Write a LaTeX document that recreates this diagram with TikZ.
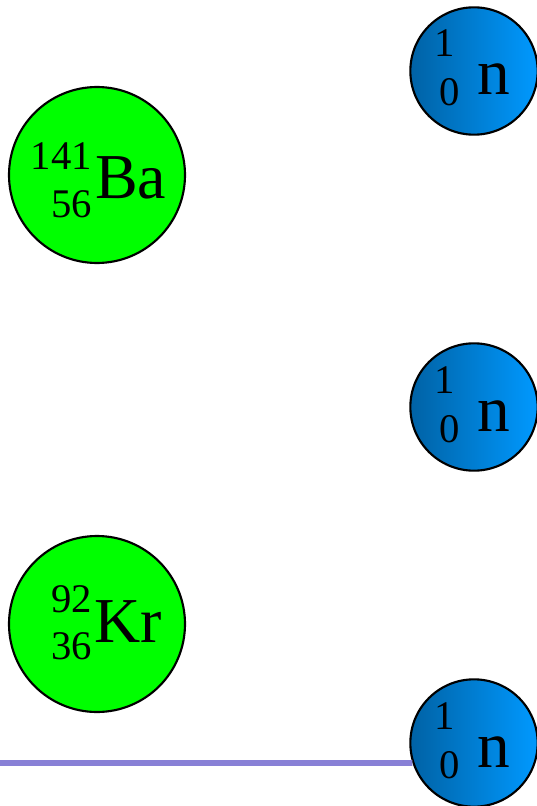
\documentclass[tikz,border=0pt]{standalone}
\usepackage{fontspec}
\setmainfont{Liberation Serif}
\usetikzlibrary{positioning}
\definecolor{fragment}{RGB}{0,255,0}
\definecolor{ndark}{RGB}{0,98,165}
\definecolor{nlight}{RGB}{0,153,255}
\definecolor{track}{RGB}{136,128,214}
\begin{document}
\begin{tikzpicture}[x=0.75pt,y=-0.75pt,
  nucleus/.style={circle, draw=black, line width=1.6pt, minimum size=132pt, inner sep=0pt, fill=fragment},
  neutron/.style={circle, draw=black, line width=1.6pt, minimum size=95.5pt, inner sep=0pt, left color=ndark, right color=nlight},
  symb/.style={font=\fontsize{48}{48}\selectfont, inner sep=0pt},
  nsymb/.style={font=\fontsize{49}{49}\selectfont, inner sep=0pt},
  num/.style={font=\fontsize{30.5}{30.5}\selectfont, inner sep=0pt}]
\useasboundingbox (0,0) rectangle (536,806);
% fission fragments
\node[nucleus] (ba) at (97,175) {};
\node[num, anchor=base east] (ba-mass) at (92,170) {141};
\node[num, anchor=base east] (ba-charge) at (92,217) {56};
\node[symb, anchor=base west] (ba-sym) at (95,198) {Ba};
\node[nucleus] (kr) at (97,624) {};
\node[num, anchor=base east] (kr-mass) at (92,612) {92};
\node[num, anchor=base east] (kr-charge) at (92,659) {36};
\node[symb, anchor=base west] (kr-sym) at (94,642) {Kr};
% neutrons
\foreach \k/\cy in {1/71,2/407,3/743} {
  \node[neutron] (n\k) at (474,\cy) {};
  \node[num, anchor=base west] (n\k-mass) at (434,\cy-14) {1};
  \node[num, anchor=base west] (n\k-charge) at (439,\cy+35) {0};
  \node[nsymb, anchor=base west] (n\k-sym) at (477,\cy+24) {n};
}
\coordinate (track-start) at (0,763);
\draw[track, line width=4.2pt] (track-start) -- (n3.198);
\end{tikzpicture}
\end{document}
